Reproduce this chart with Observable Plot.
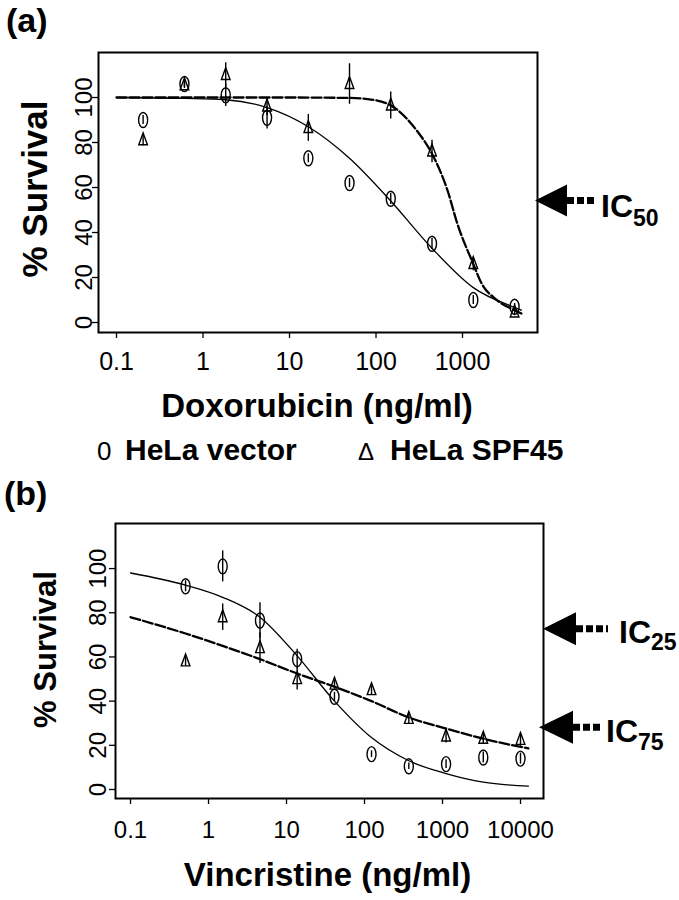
<!DOCTYPE html>
<html>
<head>
<meta charset="utf-8">
<script src="https://cdn.jsdelivr.net/npm/d3@7"></script>
<script src="https://cdn.jsdelivr.net/npm/@observablehq/plot@0.6"></script>
<style>
  body { margin: 0; background: #fff; }
  #wrap { position: relative; width: 679px; height: 900px; font-family: "Liberation Sans", Arial, Helvetica, sans-serif; color: #000; overflow: hidden; }
  .abs { position: absolute; line-height: 1; white-space: nowrap; }
  .b { font-weight: bold; }
</style>
</head>
<body>
<div id="wrap"></div>
<script>
const FONT = '"Liberation Sans", Arial, Helvetica, sans-serif';

// ---------- Panel (a): Doxorubicin ----------
const doseA = [0.203, 0.61, 1.83, 5.5, 16.5, 49.4, 148, 444, 1333, 4000];
const vectorA = [90, 106, 101, 91, 73, 62, 55, 35, 10, 7];
const vectorErrA = [2, 1.5, 5, 5, 2, 2, 2.5, 2.5, 2, 1.5];
const spfA = [81, 105.5, 110, 96, 86.5, 106, 96.5, 76, 26, 4.5];
const spfErrA = [2.5, 1.5, 5.5, 4, 6, 9, 6, 5, 3, 1.5];
const vectorFitXA = [0.1, 0.61, 1.83, 5.5, 16.5, 49.4, 148, 444, 1333, 4000, 4800];
const vectorFitYA = [100, 99.6, 99, 95.5, 87, 73, 54, 33, 15.5, 6.7, 5.5];
const spfFitXA = [0.1, 1, 10, 50, 80, 148, 300, 444, 680, 870, 1333, 1630, 2500, 4000, 4800];
const spfFitYA = [100, 100, 100, 99.8, 99.3, 96.5, 85, 75, 58, 44, 26, 18, 10, 5.5, 4];
const xTicksA = [0.1, 1, 10, 100, 1000];
const xTickLabelsA = ["0.1", "1", "10", "100", "1000"];
const icValuesA = [54];
const icSubsA = ["50"];

// ---------- Panel (b): Vincristine ----------
const doseB = [0.508, 1.52, 4.57, 13.7, 41.2, 123, 370, 1111, 3333, 10000];
const vectorB = [92, 101, 76.5, 59, 42, 16, 10.5, 11.5, 14.5, 14];
const vectorErrB = [2.5, 7, 8, 4.5, 2, 1.5, 1.5, 2, 2.5, 2.5];
const spfB = [58, 78, 64, 50, 47.5, 45, 32, 24, 23, 22.5];
const spfErrB = [2, 6, 7, 5, 2, 2, 2.5, 3, 2.5, 3];
const fitXB = [0.1, 0.508, 1.52, 4.57, 13.7, 41.2, 123, 370, 1111, 3333, 12600];
const vectorFitYB = [98, 92.5, 87, 78, 60.5, 40, 23.5, 13, 7.2, 3.3, 1.5];
const spfFitYB = [78, 70.6, 65, 59, 52.5, 46.5, 40, 32.6, 27.6, 23, 18.6];
const xTicksB = [0.1, 1, 10, 100, 1000, 10000];
const xTickLabelsB = ["0.1", "1", "10", "100", "1000", "10000"];
const icValuesB = [72.5, 28];
const icSubsB = ["25", "75"];

const yTicks = [0, 20, 40, 60, 80, 100];
const legendLabels = ["HeLa vector", "HeLa SPF45"];

// custom marker symbols
const ellipseSym = {
  draw(ctx, size) {
    const r = Math.sqrt(size / Math.PI), rx = 0.6 * r, ry = r, k = 0.5523;
    ctx.moveTo(0, -ry);
    ctx.bezierCurveTo(k * rx, -ry, rx, -k * ry, rx, 0);
    ctx.bezierCurveTo(rx, k * ry, k * rx, ry, 0, ry);
    ctx.bezierCurveTo(-k * rx, ry, -rx, k * ry, -rx, 0);
    ctx.bezierCurveTo(-rx, -k * ry, -k * rx, -ry, 0, -ry);
    ctx.closePath();
  }
};
const triangleSym = {
  draw(ctx, size) {
    const r = Math.sqrt(size / Math.PI);
    ctx.moveTo(0, -1.05 * r);
    ctx.lineTo(0.62 * r, 0.65 * r);
    ctx.lineTo(-0.62 * r, 0.65 * r);
    ctx.closePath();
  }
};

const pts = (dose, vals, errs) => dose.map((d, i) => ({dose: d, v: vals[i], lo: vals[i] - errs[i], hi: vals[i] + errs[i]}));
const fit = (xs, ys) => xs.map((d, i) => ({dose: d, v: ys[i]}));

function makePanel(c) {
  const vec = pts(c.dose, c.vector, c.vectorErr);
  const spf = pts(c.dose, c.spf, c.spfErr);
  return Plot.plot({
    width: 679, height: 430,
    marginLeft: c.ml, marginRight: c.mr, marginTop: c.mt, marginBottom: c.mb,
    style: {fontFamily: FONT, background: "white", color: "black", overflow: "visible"},
    x: {type: "log", domain: c.xDomain},
    y: {domain: c.yDomain},
    marks: [
      Plot.axisX(c.xTicks, {tickSize: 6, tickPadding: c.tickPad, fontSize: c.xFont, strokeWidth: 1.3,
        tickFormat: d => c.xLabels[c.xTicks.indexOf(d)], label: null}),
      Plot.axisY(yTicks, {tickSize: 6, strokeWidth: 1.3, tickFormat: () => "", label: null}),
      Plot.text(yTicks, {y: d => d, text: d => String(d), frameAnchor: "left", rotate: -90, dx: c.yLabDx,
        textAnchor: "middle", lineAnchor: "middle", fontSize: 24}),
      Plot.text(["% Survival"], {text: d => d, frameAnchor: "left", rotate: -90, dx: c.titleDx, dy: c.titleDy,
        textAnchor: "middle", lineAnchor: "middle", fontSize: c.titleFont, fontWeight: "bold"}),
      Plot.text([c.xTitle], {text: d => d, frameAnchor: "bottom", dx: c.xTitleDx, dy: c.xTitleDy,
        textAnchor: "middle", lineAnchor: "middle", fontSize: 33, fontWeight: "bold"}),
      Plot.line(fit(c.vecFitX, c.vecFitY), {x: "dose", y: "v", curve: "monotone-x", stroke: "black", strokeWidth: 1.3}),
      Plot.line(fit(c.spfFitX, c.spfFitY), {x: "dose", y: "v", curve: "monotone-x", stroke: "black", strokeWidth: 2.3, strokeDasharray: "10,3"}),
      Plot.ruleX(vec, {x: "dose", y1: "lo", y2: "hi", stroke: "black", strokeWidth: 1.4}),
      Plot.ruleX(spf, {x: "dose", y1: "lo", y2: "hi", stroke: "black", strokeWidth: 1.4}),
      Plot.dot(vec, {x: "dose", y: "v", symbol: ellipseSym, r: 7.5, stroke: "black", strokeWidth: 1.4, fill: "none"}),
      Plot.dot(spf, {x: "dose", y: "v", symbol: triangleSym, r: 7, stroke: "black", strokeWidth: 1.4, fill: "none"}),
      Plot.frame({stroke: "black", strokeWidth: 2})
    ]
  });
}

function addArrows(svg, values, subs, specs) {
  const ys = svg.scale("y");
  const g = d3.select(svg).append("g");
  values.forEach((v, i) => {
    const s = specs[i];
    const y = ys.apply(v);
    g.append("path").attr("d", `M${s.tip},${y} L${s.base},${y - s.half} L${s.base},${y + s.half} Z`).attr("fill", "black");
    g.append("line").attr("x1", s.base).attr("x2", s.dotEnd).attr("y1", y).attr("y2", y)
      .attr("stroke", "black").attr("stroke-width", 7).attr("stroke-dasharray", "7,3");
    const t = g.append("text").attr("x", s.textX).attr("y", y + s.base1).attr("text-anchor", "start")
      .attr("font-family", FONT).attr("font-weight", "bold").attr("font-size", 32).attr("fill", "black");
    t.append("tspan").text("IC");
    t.append("tspan").attr("dy", s.subDy).attr("font-size", 23).text(subs[i]);
  });
}

const wrap = document.getElementById("wrap");

const plotA = makePanel({
  dose: doseA, vector: vectorA, vectorErr: vectorErrA, spf: spfA, spfErr: spfErrA,
  vecFitX: vectorFitXA, vecFitY: vectorFitYA, spfFitX: spfFitXA, spfFitY: spfFitYA,
  xTicks: xTicksA, xLabels: xTickLabelsA, xDomain: [0.0619, 7362], yDomain: [-4.44, 120],
  ml: 98, mr: 142, mt: 52, mb: 98, tickPad: 14, xFont: 25, yLabDx: -14,
  titleDx: -63, titleDy: -3.5, titleFont: 35, xTitle: "Doxorubicin (ng/ml)", xTitleDx: -1, xTitleDy: 74.4
});
plotA.style.position = "absolute"; plotA.style.left = "0px"; plotA.style.top = "0px";
wrap.appendChild(plotA);
addArrows(plotA, icValuesA, icSubsA, [{tip: 535, base: 567, half: 16, dotEnd: 594, textX: 601, base1: 16, subDy: 9}]);

const plotB = makePanel({
  dose: doseB, vector: vectorB, vectorErr: vectorErrB, spf: spfB, spfErr: spfErrB,
  vecFitX: fitXB, vecFitY: vectorFitYB, spfFitX: fitXB, spfFitY: spfFitYB,
  xTicks: xTicksB, xLabels: xTickLabelsB, xDomain: [0.0642, 19720], yDomain: [-4.07, 120.4],
  ml: 115, mr: 136, mt: 53, mb: 102, tickPad: 16, xFont: 24, yLabDx: -17.5,
  titleDx: -69.5, titleDy: -11.5, titleFont: 31, xTitle: "Vincristine (ng/ml)", xTitleDx: -2, xTitleDy: 77.4
});
plotB.style.position = "absolute"; plotB.style.left = "0px"; plotB.style.top = "470px";
wrap.appendChild(plotB);
addArrows(plotB, icValuesB, icSubsB, [
  {tip: 543, base: 576, half: 16.5, dotEnd: 608, textX: 619, base1: 14, subDy: 7},
  {tip: 539, base: 573, half: 16.5, dotEnd: 603, textX: 606, base1: 15, subDy: 8}
]);

// panel labels and legend (HTML, outside the SVGs)
function addText(txt, left, top, size, bold) {
  const d = document.createElement("div");
  d.className = "abs" + (bold ? " b" : "");
  d.style.left = left + "px"; d.style.top = top + "px"; d.style.fontSize = size + "px";
  d.textContent = txt;
  wrap.appendChild(d);
}
addText("(a)", 6, 3, 34, true);
addText("(b)", 4, 476, 34, true);
addText("0", 97, 438, 26, false);
addText(legendLabels[0], 125, 435, 30, true);
addText("Δ", 358, 440, 24, false);
addText(legendLabels[1], 390, 435, 30, true);
</script>
</body>
</html>
